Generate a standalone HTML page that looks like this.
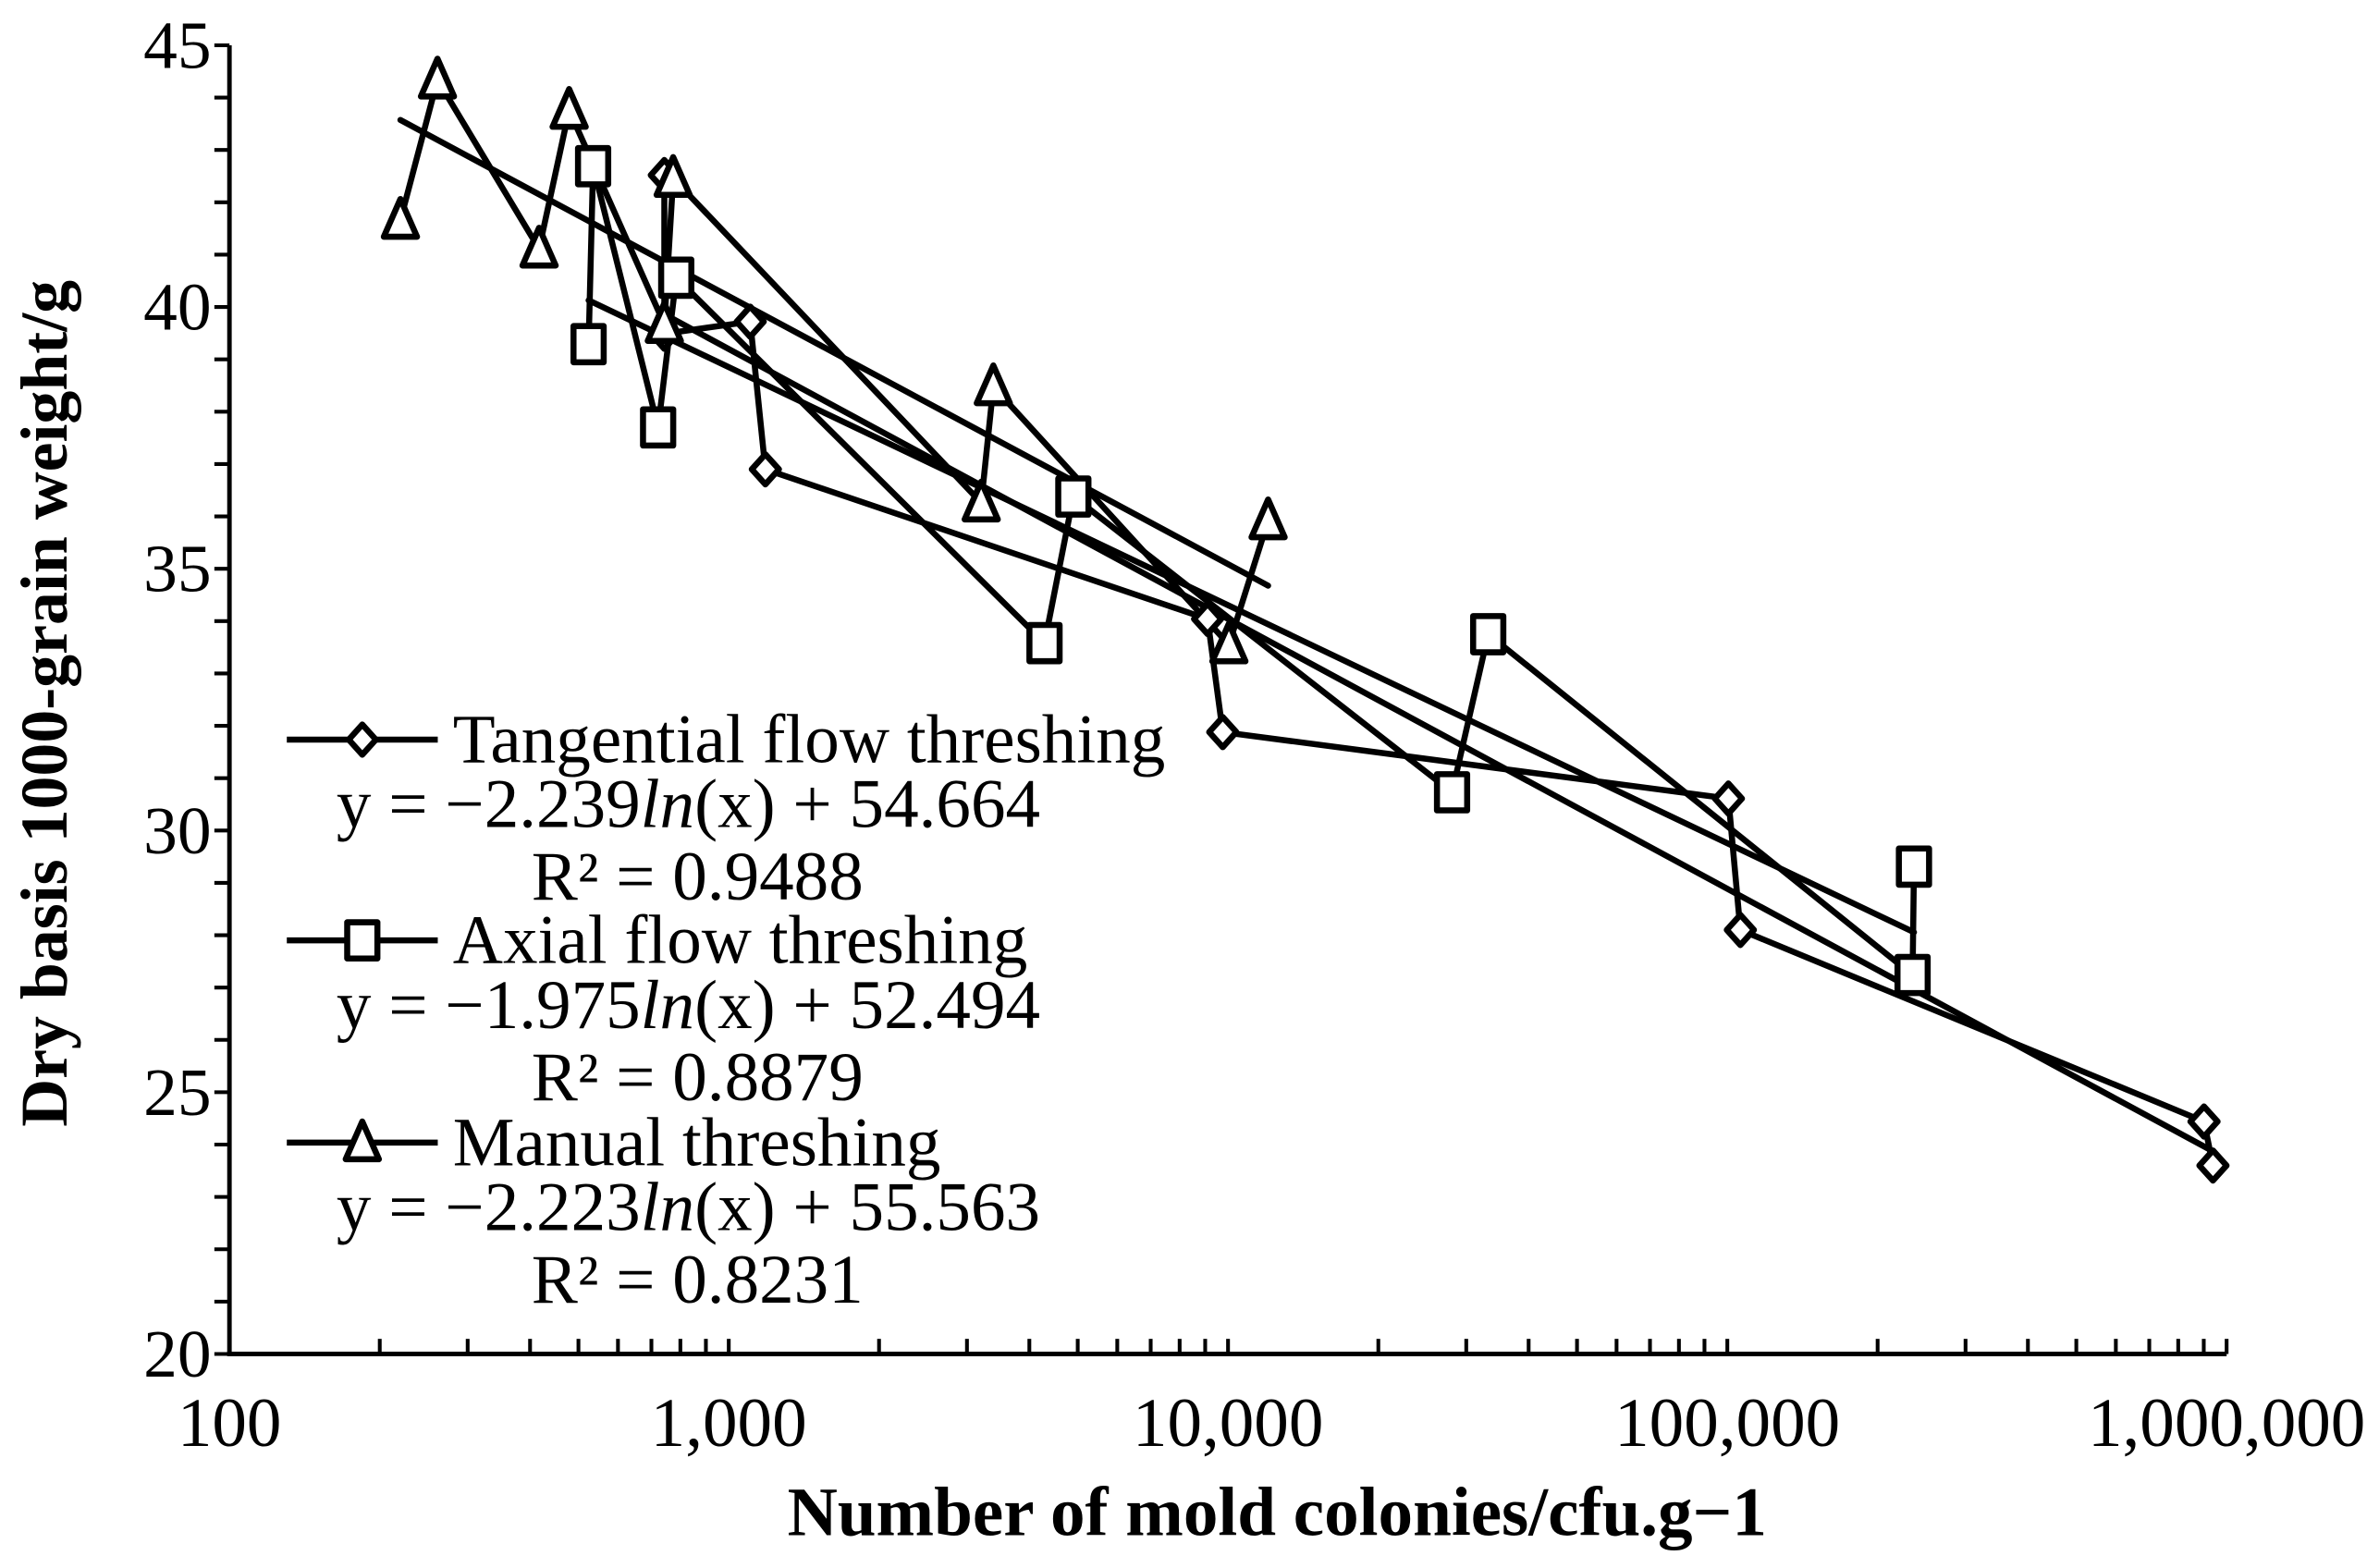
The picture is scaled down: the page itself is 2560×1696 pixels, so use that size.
<!DOCTYPE html>
<html><head><meta charset="utf-8"><style>
html,body{margin:0;padding:0;background:#fff}
svg{display:block}
text{font-family:"Liberation Serif","DejaVu Serif",serif;fill:#000}
</style></head><body>
<svg id="chart" width="2560" height="1696" viewBox="0 0 1568 1038.8" xmlns="http://www.w3.org/2000/svg">
<rect width="1568" height="1039" fill="#fff"/>
<g id="axes"></g>
<g id="series"></g>
<g id="legend"></g>
<text x="846" y="1017" font-size="46" font-weight="bold" text-anchor="middle">Number of mold colonies/cfu.g−1</text>
<text transform="translate(44,466) rotate(-90)" font-size="44" font-weight="bold" text-anchor="middle">Dry basis 1000-grain weight/g</text>
</svg>
<script>
const xTicks = [100, 1000, 10000, 100000, 1000000];
const xTickLabels = ["100", "1,000", "10,000", "100,000", "1,000,000"];
const yTicks = [20, 25, 30, 35, 40, 45];
const tangX = [743, 743, 1104, 1184, 9100, 9760, 100500, 106200, 901000, 939000];
const tangY = [42.52, 39.49, 39.72, 36.90, 34.04, 31.88, 30.61, 28.10, 24.44, 23.60];
const axialX = [524, 535, 722, 785, 4290, 4900, 28100, 33200, 235000, 236500];
const axialY = [39.29, 42.69, 37.70, 40.56, 33.58, 36.38, 30.73, 33.75, 27.24, 29.31];
const manX = [220, 261, 417, 479, 743, 774, 3204, 3388, 10040, 12030];
const manY = [41.66, 44.34, 41.11, 43.76, 39.67, 42.46, 36.26, 38.48, 33.55, 35.92];
const fitA = [-2.239, -1.975, -2.223];
const fitB = [54.664, 52.494, 55.563];
const fitR2 = ["0.9488", "0.8879", "0.8231"];
const seriesNames = ["Tangential flow threshing", "Axial flow threshing", "Manual threshing"];

const L = 152, R = 1475, T = 30, B = 897;
function sx(v){ return L + (Math.log10(v) - 2) / 4 * (R - L); }
function sy(v){ return B - (v - 20) / 25 * (B - T); }
const NS = "http://www.w3.org/2000/svg";
function mk(tag, attrs, parent){
  const e = document.createElementNS(NS, tag);
  for (const k in attrs) e.setAttribute(k, attrs[k]);
  parent.appendChild(e); return e;
}
const axes = document.getElementById('axes');
const series = document.getElementById('series');
const legend = document.getElementById('legend');

const yAxis = mk('line', {x1:L, y1:T, x2:L, y2:B, stroke:'#000', 'stroke-width':3}, axes);


const xAxis = mk('line', {x1:L-1.5, y1:B, x2:R, y2:B, stroke:'#000', 'stroke-width':3}, axes);



for (let v = 20; v <= 45; v++) {
  const t = mk('line', {x1:L-10, y1:sy(v), x2:L, y2:sy(v), stroke:'#000', 'stroke-width':2.5}, axes);
  
  
}
yTicks.forEach(v => {
  const t = mk('text', {x:140, y:sy(v)+15, 'font-size':45, 'text-anchor':'end'}, axes);
  t.textContent = v;
  
  
});
xTicks.forEach((v, i) => {
  if (i < xTicks.length - 1) {
    for (let m = 2; m <= 9; m++) {
      const t = mk('line', {x1:sx(v*m), y1:B-10, x2:sx(v*m), y2:B, stroke:'#000', 'stroke-width':2.5}, axes);
      
      
    }
  }
  const t = mk('line', {x1:sx(v), y1:B-10, x2:sx(v), y2:B, stroke:'#000', 'stroke-width':2.5}, axes);
  
  
  const lb = mk('text', {x:sx(v), y:958, 'font-size':46, 'text-anchor':'middle'}, axes);
  lb.textContent = xTickLabels[i];
  
  
});

function marker(type, x, y, parent){
  let e;
  if (type === 0) e = mk('polygon', {points:`${x},${y-10} ${x+9},${y} ${x},${y+10} ${x-9},${y}`}, parent);
  else if (type === 1) e = mk('rect', {x:x-10, y:y-12, width:20, height:24}, parent);
  else e = mk('polygon', {points:`${x},${y-14} ${x+11},${y+11} ${x-11},${y+11}`}, parent);
  e.setAttribute('fill', '#fff');
  e.setAttribute('stroke', '#000');
  e.setAttribute('stroke-width', 4);
  e.setAttribute('stroke-linejoin', 'round');
  return e;
}

const allX = [tangX, axialX, manX];
const allY = [tangY, axialY, manY];
const sNames = ['tangential', 'axial', 'manual'];
allX.forEach((xs, s) => {
  const x0 = Math.min(...xs), x1 = Math.max(...xs);
  const f = v => fitA[s] * Math.log(v) + fitB[s];
  const tl = mk('line', {x1:sx(x0), y1:sy(f(x0)), x2:sx(x1), y2:sy(f(x1)), stroke:'#000', 'stroke-width':4, 'stroke-linecap':'round'}, series);
  
  
});
allX.forEach((xs, s) => {
  const pts = xs.map((v, i) => `${sx(v)},${sy(allY[s][i])}`).join(' ');
  const pl = mk('polyline', {points:pts, fill:'none', stroke:'#000', 'stroke-width':4, 'stroke-linejoin':'round'}, series);
  
  
});
allX.forEach((xs, s) => {
  xs.forEach((v, i) => {
    const m = marker(s, sx(v), sy(allY[s][i]), series);
    
    
  });
});

const rowY = [490, 623, 757];
seriesNames.forEach((name, s) => {
  const y = rowY[s];
  const ln = mk('line', {x1:190, y1:y, x2:290, y2:y, stroke:'#000', 'stroke-width':4}, legend);
  
  
  const mm = marker(s, 240, y, legend);
  
  
  const t = mk('text', {x:300, y:y+15, 'font-size':46}, legend);
  t.textContent = name;
  
  
  const eq = mk('text', {x:456, y:y+58, 'font-size':46, 'text-anchor':'middle'}, legend);
  const a = mk('tspan', {}, eq); a.textContent = 'y = ' + (fitA[s] < 0 ? '−' : '') + Math.abs(fitA[s]).toFixed(3);
  const b = mk('tspan', {'font-style':'italic'}, eq); b.textContent = 'ln';
  const c = mk('tspan', {}, eq); c.textContent = '(x) + ' + fitB[s].toFixed(3);
  
  
  const r2 = mk('text', {x:462, y:y+106, 'font-size':46, 'text-anchor':'middle'}, legend);
  r2.textContent = 'R² = ' + fitR2[s];
  
  
});
</script>
</body></html>
